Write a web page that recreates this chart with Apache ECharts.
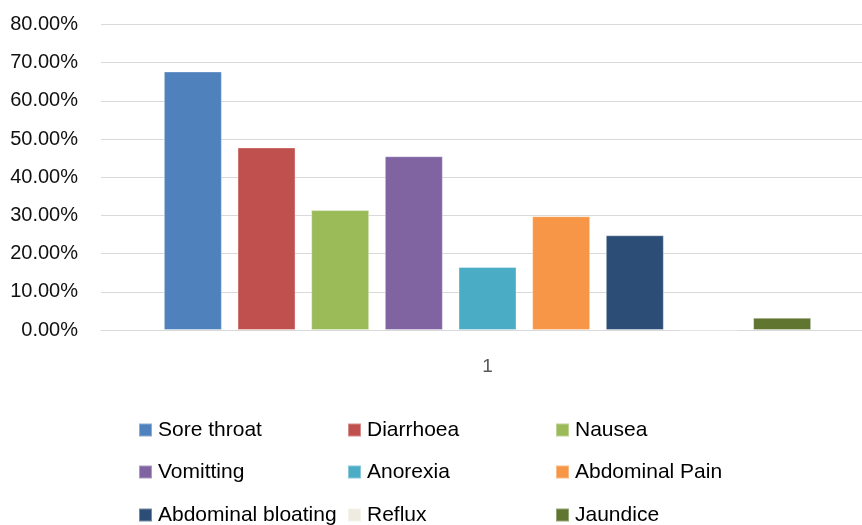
<!DOCTYPE html>
<html>
<head>
<meta charset="utf-8">
<script src="https://cdn.jsdelivr.net/npm/echarts@6/dist/echarts.min.js"></script>
<style>
  html, body { margin: 0; padding: 0; background: #fff; }
  #chart { width: 862px; height: 525px; }
</style>
</head>
<body>
<div id="chart"></div>
<script>
// Share of patients reporting each symptom (fraction of 1)
const categories = ['1'];
const symptoms = ['Sore throat', 'Diarrhoea', 'Nausea', 'Vomitting', 'Anorexia',
                  'Abdominal Pain', 'Abdominal bloating', 'Reflux', 'Jaundice'];
const shares = [0.677, 0.478, 0.314, 0.455, 0.165, 0.298, 0.248, 0, 0.032];
const colors = ['#4F81BD', '#C0504D', '#9BBB59', '#8064A2', '#4BACC6',
                '#F79646', '#2C4D75', '#EEECE1', '#5F7530'];
const yTicks = { min: 0, max: 0.8, step: 0.1 };

const font = '"Liberation Sans", Arial, sans-serif';

const series = symptoms.map((name, i) => ({
  name,
  type: 'bar',
  data: [shares[i]],
  barWidth: 58,
  barGap: '27%',
  itemStyle: { color: colors[i], borderColor: 'rgba(255,255,255,0.35)', borderWidth: 1 }
}));

// legend laid out as a 3-column table, one legend block per entry
const colX = [138, 347, 555];
const rowY = [418, 460, 503];
const legends = symptoms.map((name, i) => ({
  data: [name],
  left: colX[i % 3],
  top: rowY[Math.floor(i / 3)],
  itemWidth: 13,
  itemHeight: 13,
  icon: 'rect',
  selectedMode: false,
  padding: 0,
  textStyle: { fontFamily: font, fontSize: 21, color: '#000', lineHeight: 24, padding: [0, 0, 0, 1] }
}));

const chart = echarts.init(document.getElementById('chart'), null, { renderer: 'canvas' });
chart.setOption({
  animation: false,
  backgroundColor: '#fff',
  color: colors,
  // plot area runs a little past the right edge of the canvas
  grid: { left: 101, width: 773, top: 24.5, height: 305.5, containLabel: false, outerBoundsMode: 'none' },
  legend: legends,
  xAxis: {
    type: 'category',
    data: categories,
    axisLine: { lineStyle: { color: '#D9D9D9', width: 1 } },
    axisTick: { show: false },
    axisLabel: { fontFamily: font, fontSize: 19, color: '#595959', margin: 27 }
  },
  yAxis: {
    type: 'value',
    min: yTicks.min,
    max: yTicks.max,
    interval: yTicks.step,
    axisLine: { show: false },
    axisTick: { show: false },
    splitLine: { lineStyle: { color: '#D9D9D9', width: 1 } },
    axisLabel: {
      fontFamily: font, fontSize: 20, color: '#111', margin: 23,
      formatter: v => (v * 100).toFixed(2) + '%'
    }
  },
  series
});
</script>
</body>
</html>
